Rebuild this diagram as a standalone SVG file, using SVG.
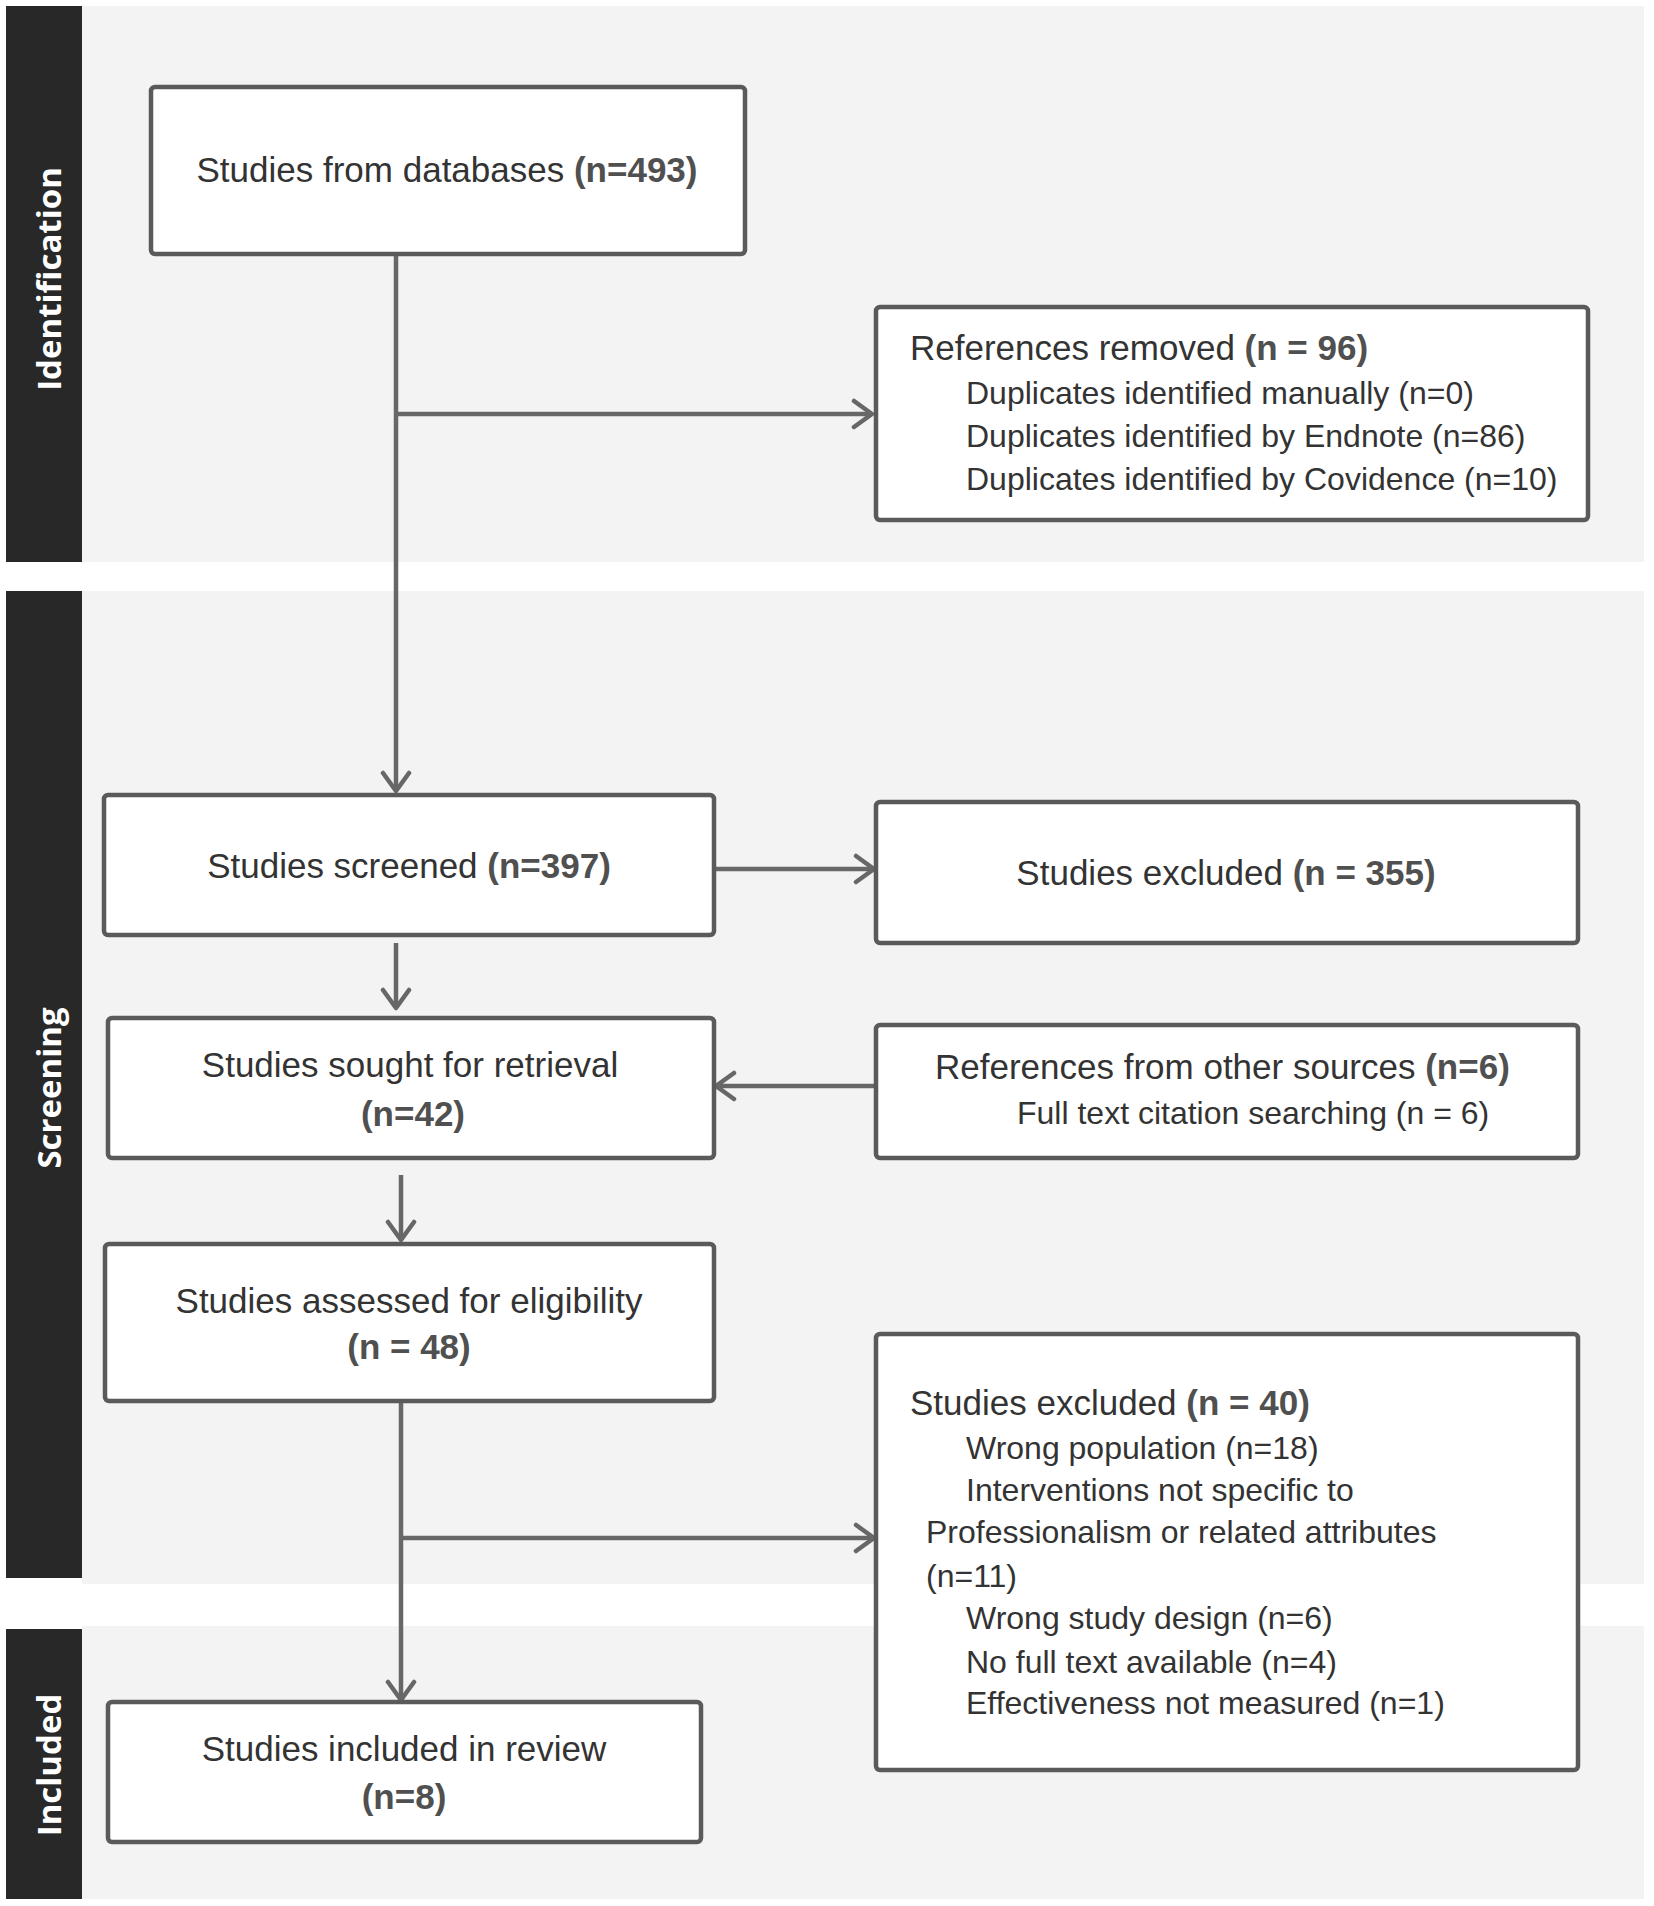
<svg xmlns="http://www.w3.org/2000/svg" width="1654" height="1906" viewBox="0 0 1654 1906">
<defs>
<style>
.band{fill:#f3f3f3}
.bar{fill:#282828}
.phase{font-family:"Open Sans","Liberation Sans",sans-serif;font-weight:bold;font-size:33px;fill:#ffffff;text-anchor:middle}
.box{fill:#ffffff;stroke:#5a5a5a;stroke-width:4.5}
.t{font-family:"Liberation Sans",Arial,sans-serif;font-size:35px;fill:#333333}
.s{font-family:"Liberation Sans",Arial,sans-serif;font-size:32px;fill:#333333}
.c{text-anchor:middle}
.b{font-weight:bold;fill:#505050}
.conn{fill:none;stroke:#676767;stroke-width:4.5}
</style>
<marker id="arr" viewBox="0 0 24 32" refX="21" refY="16" markerWidth="24" markerHeight="32" markerUnits="userSpaceOnUse" orient="auto">
<path d="M3,3 L21,16 L3,29" fill="none" stroke="#676767" stroke-width="4.5" stroke-linecap="round" stroke-linejoin="round"/>
</marker>
</defs>
<rect x="0" y="0" width="1654" height="1906" fill="#ffffff"/>
<g id="phases">
<rect class="band" x="82" y="6" width="1562" height="556"/>
<rect class="bar" x="6" y="6" width="76" height="556"/>
<text class="phase" transform="translate(61,279) rotate(-90)">Identification</text>
<rect class="band" x="82" y="591" width="1562" height="993"/>
<rect class="bar" x="6" y="591" width="76" height="987"/>
<text class="phase" transform="translate(61,1088) rotate(-90)">Screening</text>
<rect class="band" x="82" y="1626" width="1562" height="273"/>
<rect class="bar" x="6" y="1629" width="76" height="270"/>
<text class="phase" transform="translate(61,1765) rotate(-90)">Included</text>
</g>
<g id="connectors">
<line class="conn" x1="396" y1="254" x2="396" y2="791" marker-end="url(#arr)"/>
<line class="conn" x1="396" y1="414" x2="872" y2="414" marker-end="url(#arr)"/>
<line class="conn" x1="714" y1="869" x2="874" y2="869" marker-end="url(#arr)"/>
<line class="conn" x1="396" y1="943" x2="396" y2="1008" marker-end="url(#arr)"/>
<line class="conn" x1="876" y1="1086" x2="716" y2="1086" marker-end="url(#arr)"/>
<line class="conn" x1="401" y1="1175" x2="401" y2="1240" marker-end="url(#arr)"/>
<line class="conn" x1="401" y1="1401" x2="401" y2="1700" marker-end="url(#arr)"/>
<line class="conn" x1="401" y1="1538" x2="874" y2="1538" marker-end="url(#arr)"/>
</g>
<g id="n-databases">
<rect class="box" x="151" y="87" width="594" height="167" rx="4"/>
<text class="t c" x="447" y="182">Studies from databases <tspan class="b">(n=493)</tspan></text>
</g>
<g id="n-removed">
<rect class="box" x="876" y="307" width="712" height="213" rx="4"/>
<text class="t" x="910" y="360">References removed <tspan class="b">(n = 96)</tspan></text>
<text class="s" x="966" y="404">Duplicates identified manually (n=0)</text>
<text class="s" x="966" y="447">Duplicates identified by Endnote (n=86)</text>
<text class="s" x="966" y="490">Duplicates identified by Covidence (n=10)</text>
</g>
<g id="n-screened">
<rect class="box" x="104" y="795" width="610" height="140" rx="4"/>
<text class="t c" x="409" y="878">Studies screened <tspan class="b">(n=397)</tspan></text>
</g>
<g id="n-excluded1">
<rect class="box" x="876" y="802" width="702" height="141" rx="4"/>
<text class="t c" x="1226" y="885">Studies excluded <tspan class="b">(n = 355)</tspan></text>
</g>
<g id="n-sought">
<rect class="box" x="108" y="1018" width="606" height="140" rx="4"/>
<text class="t c" x="410" y="1077">Studies sought for retrieval</text>
<text class="t c b" x="413" y="1126">(n=42)</text>
</g>
<g id="n-other">
<rect class="box" x="876" y="1025" width="702" height="133" rx="4"/>
<text class="t" x="935" y="1079">References from other sources <tspan class="b">(n=6)</tspan></text>
<text class="s" x="1017" y="1124">Full text citation searching (n = 6)</text>
</g>
<g id="n-assessed">
<rect class="box" x="105" y="1244" width="609" height="157" rx="4"/>
<text class="t c" x="409" y="1313">Studies assessed for eligibility</text>
<text class="t c b" x="409" y="1359">(n = 48)</text>
</g>
<g id="n-excluded2">
<rect class="box" x="876" y="1334" width="702" height="436" rx="4"/>
<text class="t" x="910" y="1415">Studies excluded <tspan class="b">(n = 40)</tspan></text>
<text class="s" x="966" y="1459">Wrong population (n=18)</text>
<text class="s" x="966" y="1501">Interventions not specific to</text>
<text class="s" x="926" y="1543">Professionalism or related attributes</text>
<text class="s" x="926" y="1587">(n=11)</text>
<text class="s" x="966" y="1629">Wrong study design (n=6)</text>
<text class="s" x="966" y="1673">No full text available (n=4)</text>
<text class="s" x="966" y="1714">Effectiveness not measured (n=1)</text>
</g>
<g id="n-included">
<rect class="box" x="108" y="1702" width="593" height="140" rx="4"/>
<text class="t c" x="404" y="1761">Studies included in review</text>
<text class="t c b" x="404" y="1809">(n=8)</text>
</g>
</svg>
